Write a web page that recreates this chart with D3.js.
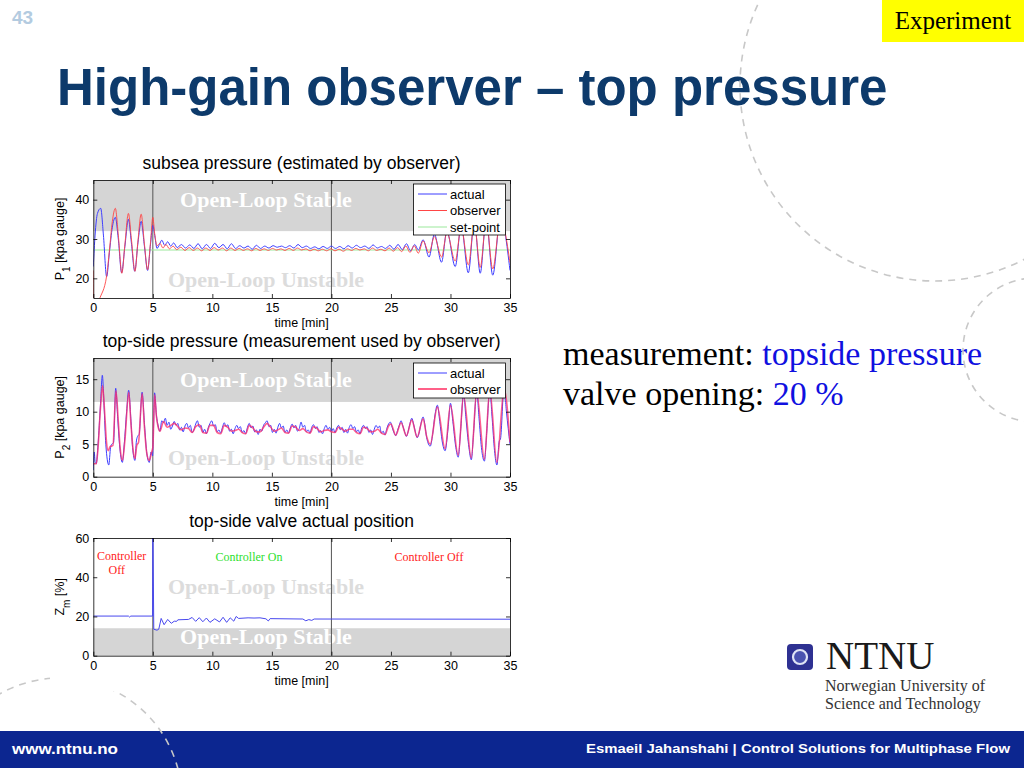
<!DOCTYPE html>
<html>
<head>
<meta charset="utf-8">
<script src="https://cdn.jsdelivr.net/npm/d3@7"></script>
<style>
  body { margin: 0; background: #fff; }
  svg { display: block; }
  .tick text { font-family: "Liberation Sans", Arial, sans-serif; font-size: 12.5px; fill: #000; }
  .tick line, .domain { stroke: #000; stroke-width: 0.8; }
</style>
</head>
<body>
<div id="slide"></div>
<script>
// ---- data ----
var timeTicks = [0, 5, 10, 15, 20, 25, 30, 35];
var p1Ticks = [20, 30, 40];
var p2Ticks = [0, 5, 10, 15];
var zmTicks = [0, 20, 40, 60];

// subsea pressure P1 [kpa gauge], [time min, value]
var p1Actual = [[0,23],[0.15,31],[0.35,36.5],[0.62,37.8],[0.85,31],[1.12,20.4],[1.35,26.5],[1.6,33],[1.85,35.5],[2.1,30],[2.38,21.4],[2.65,28],[2.95,35],[3.2,29],[3.48,21.8],[3.75,29],[4.02,34.5],[4.3,28],[4.56,22],[4.8,28.5],[5.0,33.5],[5.18,30.5],[5.35,27.6],
  [5.55,28.6],[5.75,29.7],[6.0,28.4],[6.25,29.3],[6.5,28.2],[6.75,29.0],[7.05,27.8],[7.4,28.6],[7.75,27.7],[8.1,28.5],[8.45,27.6],[8.8,28.8],[9.15,27.5],[9.5,28.6],[9.85,27.6],[10.2,28.9],[10.55,27.8],[10.9,28.6],[11.25,27.5],[11.6,28.8],[11.95,27.6],[12.3,28.3],[12.65,27.7],[13.0,28.2],[13.35,27.4],[13.7,28.4],[14.05,27.6],[14.4,28.2],[14.75,27.7],[15.1,28.3],[15.45,27.9],[15.8,28.2],[16.15,27.8],[16.5,28.3],[16.85,27.7],[17.2,28.6],[17.55,27.8],[17.9,28.2],[18.25,27.6],[18.6,28.0],[18.95,27.5],[19.3,28.1],[19.65,27.6],[20.0,28.2],[20.35,27.6],[20.7,28.1],[21.05,27.5],[21.4,28.3],[21.75,27.7],[22.1,28.4],[22.45,27.8],[22.8,28.2],[23.15,27.6],[23.5,28.5],[23.85,27.7],[24.2,28.1],[24.55,27.6],[24.9,28.4],[25.25,27.4],[25.6,28.6],[25.95,27.3],[26.3,28.8],[26.65,27.0],[27.0,28.6],[27.3,27.2],
  [27.7,29.8],[28.2,25.4],[28.65,31.2],[29.25,24.1],[29.7,32],[30.4,23],[30.9,33.3],[31.5,21.4],[32.0,34.5],[32.5,21.3],[33.0,35],[33.55,20.8],[34.2,35.5],[35,22]];
var p1Observer = [[0,22],[0.04,10],[0.5,14.5],[1.12,20.6],[1.35,27],[1.6,34.5],[1.85,37.8],[2.1,31],[2.4,21.3],[2.65,28.5],[2.95,36.5],[3.2,30],[3.5,21.8],[3.75,29.5],[4.02,36.3],[4.3,28.5],[4.56,22.2],[4.8,29],[5.0,35.5],[5.15,31.5],[5.35,28.3],
  [5.6,28.9],[5.85,27.7],[6.1,28.6],[6.4,27.5],[6.7,28.2],[7.0,27.3],[7.35,27.9],[7.7,27.1],[8.05,27.8],[8.4,27.1],[8.75,27.7],[9.1,27.0],[9.45,27.7],[9.8,27.1],[10.15,27.8],[10.5,27.2],[10.85,27.7],[11.2,27.0],[11.55,27.7],[11.9,27.1],[12.25,27.6],[12.6,27.1],[12.95,27.5],[13.3,27.0],[13.65,27.6],[14.0,27.1],[14.35,27.5],[14.7,27.1],[15.05,27.6],[15.4,27.2],[15.75,27.5],[16.1,27.1],[16.45,27.6],[16.8,27.1],[17.15,27.7],[17.5,27.2],[17.85,27.5],[18.2,27.0],[18.55,27.4],[18.9,27.0],[19.25,27.4],[19.6,27.0],[19.95,27.5],[20.3,27.0],[20.65,27.4],[21.0,26.9],[21.35,27.5],[21.7,27.1],[22.05,27.6],[22.4,27.2],[22.75,27.5],[23.1,27.0],[23.45,27.7],[23.8,27.1],[24.15,27.4],[24.5,27.0],[24.85,27.7],[25.2,26.9],[25.55,27.8],[25.9,26.8],[26.25,28.2],[26.6,26.6],[26.95,28.3],[27.3,26.4],
  [27.7,29.5],[28.2,26.5],[28.65,30.6],[29.25,25.4],[29.7,31.6],[30.4,24.4],[30.9,33],[31.5,23.4],[32.0,34],[32.5,22.8],[33.0,34.6],[33.55,22.4],[34.2,35],[35,24]];
var p1SetPoint = [[0,27.2],[35,27.2]];

// top-side pressure P2 [kpa gauge]
var p2Actual = [[0,1.0],[0.08,3.8],[0.15,2.3],[0.25,2.0],[0.4,5],[0.6,11],[0.76,15.6],[0.9,11],[1.05,5],[1.3,1.8],[1.45,4.5],[1.55,5],[1.7,5.2],[1.88,13.6],[2.05,9],[2.2,5],[2.44,2.2],[2.6,5],[2.8,10],[2.97,13.3],[3.15,9],[3.3,4.5],[3.5,2.5],[3.62,5.5],[3.75,6.3],[3.85,6.5],[4.1,13.0],[4.3,8],[4.5,3.5],[4.7,2.2],[4.85,3.8],[4.98,3.2],[5.05,7],[5.15,12.9],[5.3,9.5],[5.45,7.8],[5.6,7.0],
  [5.75,8.6],[5.9,8.3],[6.05,9.0],[6.2,7.9],[6.35,8.4],[6.5,7.3],[6.65,7.8],[6.8,8.5],[6.95,7.9],[7.1,8.2],[7.25,7.2],[7.4,7.6],[7.55,6.9],[7.7,7.8],[7.85,8.2],[8.0,7.5],[8.15,7.9],[8.3,6.8],[8.45,7.2],[8.6,8.1],[8.75,8.6],[8.9,7.6],[9.05,7.9],[9.2,6.8],[9.35,7.3],[9.5,6.6],[9.65,7.5],[9.8,8.2],[9.95,8.6],[10.1,7.8],[10.25,8.0],[10.4,6.9],[10.55,7.2],[10.7,6.7],[10.85,7.6],[11.0,8.3],[11.15,7.7],[11.3,8.0],[11.45,7.0],[11.6,7.3],[11.75,6.6],[11.9,7.4],[12.05,7.9],[12.2,7.4],[12.35,7.7],[12.5,6.8],[12.65,7.1],[12.8,6.6],[12.95,7.6],[13.1,8.2],[13.25,7.5],[13.4,7.8],[13.55,6.9],[13.7,7.2],[13.85,6.5],[14.0,7.3],[14.15,7.0],[14.3,7.9],[14.45,8.3],[14.6,8.6],[14.75,7.7],[14.9,7.9],[15.05,6.8],[15.2,7.3],[15.35,6.7],[15.5,7.6],[15.65,8.2],[15.8,7.5],[15.95,7.8],[16.1,6.8],[16.25,7.2],[16.4,6.7],[16.55,7.5],[16.7,8.1],[16.85,7.5],[17.0,7.9],[17.15,7.0],[17.3,7.4],[17.45,8.4],[17.6,7.6],[17.75,7.9],[17.9,6.9],[18.05,7.2],[18.2,6.7],[18.35,7.6],[18.5,8.0],[18.65,7.4],[18.8,7.7],[18.95,6.8],[19.1,7.1],[19.25,6.6],[19.4,7.4],[19.55,7.9],[19.7,7.3],[19.85,7.6],[20.0,6.9],[20.15,7.4],[20.3,6.8],[20.45,7.5],[20.6,7.9],[20.75,7.2],[20.9,7.6],[21.05,6.8],[21.2,7.3],[21.35,6.7],[21.5,7.6],[21.65,8.0],[21.8,7.4],[21.95,7.7],[22.1,6.9],[22.25,7.2],[22.4,6.6],[22.55,7.5],[22.7,7.9],[22.85,7.4],[23.0,7.7],[23.15,6.8],[23.3,7.2],[23.45,6.5],[23.6,7.3],[23.75,7.9],[23.9,7.5],[24.05,7.8],[24.2,6.7],[24.35,7.0],[24.5,6.4],[24.65,7.4],[24.8,8.1],[24.95,8.4],[25.1,7.6],[25.25,6.8],[25.4,6.3],[25.55,7.1],[25.7,7.9],[25.85,8.6],[26.0,7.8],[26.15,6.9],[26.3,6.2],[26.45,7.0],[26.6,8.2],[26.75,9.0],[26.9,8.1],[27.05,6.9],[27.2,6.0],[27.35,6.6],[27.5,8.0],[27.7,9.2],[27.85,8.0],[28.0,6.0],
  [28.3,4.7],[28.5,6.5],[28.7,9.5],[28.9,11.0],[29.1,8.5],[29.3,5.5],[29.55,4.0],[29.8,7.5],[30.0,11.3],[30.2,8.5],[30.45,4.5],[30.65,3.0],[30.85,7.0],[31.1,12.8],[31.3,9.0],[31.55,4.5],[31.75,2.6],[31.95,7.0],[32.2,13.2],[32.4,9.0],[32.6,4.5],[32.85,2.4],[33.05,7.0],[33.3,13.5],[33.5,9.0],[33.7,4.0],[33.9,1.8],[34.1,5.5],[34.2,5.8],[34.5,13.8],[34.7,10],[35,5.0]];
var p2Observer = [[0,2.0],[0.25,2.0],[0.4,4.5],[0.6,10.5],[0.78,14.0],[0.95,10],[1.1,5.5],[1.25,4.0],[1.4,4.6],[1.65,4.8],[1.9,13.2],[2.1,8.5],[2.25,4.5],[2.45,2.5],[2.65,5.5],[2.98,13.0],[3.15,8.5],[3.35,4],[3.5,2.8],[3.65,4.8],[3.8,5.3],[4.1,12.8],[4.3,7.5],[4.5,3.5],[4.7,2.5],[4.9,3.8],[5.0,4.5],[5.15,12.6],[5.3,9.3],[5.45,7.6],[5.6,7.0],
  [5.9,8.5],[6.2,7.6],[6.5,7.9],[6.8,8.2],[7.1,7.7],[7.4,7.2],[7.7,7.5],[8.0,7.4],[8.3,6.8],[8.6,7.7],[8.9,8.0],[9.2,6.8],[9.5,6.7],[9.8,7.9],[10.1,7.9],[10.4,6.8],[10.7,6.6],[11.0,7.9],[11.3,7.6],[11.6,7.0],[11.9,7.1],[12.2,7.3],[12.5,6.8],[12.8,6.6],[13.1,7.9],[13.4,7.5],[13.7,6.9],[14.0,6.9],[14.3,7.6],[14.6,8.2],[14.9,7.6],[15.2,7.0],[15.5,7.2],[15.8,7.5],[16.1,6.8],[16.4,6.7],[16.7,7.8],[17.0,7.6],[17.3,7.1],[17.6,7.4],[17.9,6.9],[18.2,6.7],[18.5,7.7],[18.8,7.4],[19.1,6.9],[19.4,7.1],[19.7,7.2],[20.0,6.9],[20.3,6.8],[20.6,7.6],[20.9,7.3],[21.2,7.0],[21.5,7.3],[21.8,7.3],[22.1,6.8],[22.4,6.6],[22.7,7.6],[23.0,7.4],[23.3,6.9],[23.6,7.0],[23.9,7.3],[24.2,6.7],[24.5,6.5],[24.8,7.8],[25.0,8.1],[25.4,6.4],[25.85,8.3],[26.3,6.3],[26.75,8.7],[27.2,6.1],[27.7,8.9],[28.0,6.2],
  [28.3,5.0],[28.9,10.7],[29.55,4.3],[30.0,11.0],[30.65,3.3],[31.1,12.5],[31.75,2.9],[32.2,13.0],[32.85,2.7],[33.3,13.3],[33.9,2.2],[34.5,13.5],[35,5.3]];

// top-side valve position Zm [%]
var zmActual = [[0,20.2],[2.95,20.2],[3.05,19.7],[3.15,20.2],[4.98,20.2],[5.0,70],[5.08,13.5],[5.35,13.0],[5.5,13.5],[5.7,19.0],[5.95,15.8],[6.25,18.5],[6.55,16.5],[6.8,17.6],[7.0,17.5],[7.1,18.3],[8.0,18.5],[8.3,19.5],[8.6,17.5],[8.9,19.4],[9.2,17.3],[9.5,19.2],[9.8,17.0],[10.2,18.8],[10.6,17.2],[10.9,19.6],[11.2,17.0],[11.5,19.3],[11.8,17.6],[12.0,20.0],[12.2,19.0],[13.0,19.3],[13.5,19.2],[14.0,19.3],[14.5,18.8],[14.7,17.7],[14.85,18.9],[17.6,18.7],[17.85,17.8],[18.1,18.4],[18.35,18.0],[18.55,18.7],[35,18.6]];

var sansFont = '"Liberation Sans", Arial, Helvetica, sans-serif';
var serifFont = '"Liberation Serif", "Times New Roman", serif';

var svg = d3.select("#slide").append("svg")
  .attr("width", 1024)
  .attr("height", 768);

// bottom bar
svg.append("rect").attr("x", 0).attr("y", 731).attr("width", 1024).attr("height", 37).attr("fill", "#0c2690");
svg.append("text").attr("x", 12).attr("y", 754).attr("fill", "#fff")
  .attr("font-family", sansFont).attr("font-weight", "bold").attr("font-size", 15)
  .attr("textLength", 106).attr("lengthAdjust", "spacingAndGlyphs").text("www.ntnu.no");
svg.append("text").attr("x", 586).attr("y", 753).attr("fill", "#fff")
  .attr("font-family", sansFont).attr("font-weight", "bold").attr("font-size", 13.5)
  .attr("textLength", 424).attr("lengthAdjust", "spacingAndGlyphs")
  .text("Esmaeil Jahanshahi  |  Control Solutions for Multiphase Flow");

// page number, title, experiment tag
svg.append("text").attr("x", 12).attr("y", 24).attr("fill", "#b3cbe0")
  .attr("font-family", sansFont).attr("font-weight", "bold").attr("font-size", 19).text("43");
svg.append("text").attr("x", 57).attr("y", 105).attr("fill", "#0d3a6b")
  .attr("font-family", sansFont).attr("font-weight", "bold").attr("font-size", 51)
  .text("High-gain observer \u2013 top pressure");
svg.append("rect").attr("x", 882).attr("y", 0).attr("width", 142).attr("height", 42).attr("fill", "#ffff00");
svg.append("text").attr("x", 953).attr("y", 29).attr("text-anchor", "middle")
  .attr("font-family", serifFont).attr("font-size", 25).text("Experiment");

// side notes
var note1 = svg.append("text").attr("x", 563).attr("y", 365)
  .attr("font-family", serifFont).attr("font-size", 34);
note1.append("tspan").attr("fill", "#000").text("measurement: ");
note1.append("tspan").attr("fill", "#1010e0").text("topside pressure");
var note2 = svg.append("text").attr("x", 563).attr("y", 405)
  .attr("font-family", serifFont).attr("font-size", 34);
note2.append("tspan").attr("fill", "#000").text("valve opening: ");
note2.append("tspan").attr("fill", "#1010e0").text("20 %");

// dashed decoration circles
[[935, 86, 195], [1035, 350, 72], [60, 800, 122]].forEach(function(c) {
  svg.append("circle").attr("cx", c[0]).attr("cy", c[1]).attr("r", c[2])
    .attr("fill", "none").attr("stroke", "#c8c8c8").attr("stroke-width", 1.6)
    .attr("stroke-dasharray", "7,6");
});

// NTNU logo
svg.append("rect").attr("x", 787).attr("y", 644).attr("width", 26).attr("height", 26).attr("rx", 4).attr("fill", "#2e3192");
svg.append("circle").attr("cx", 800).attr("cy", 657).attr("r", 7).attr("fill", "#4a52b0").attr("stroke", "#dfe3f5").attr("stroke-width", 2.2);
svg.append("text").attr("x", 826).attr("y", 669).attr("fill", "#1a1a1a")
  .attr("font-family", serifFont).attr("font-size", 39).text("NTNU");
svg.append("text").attr("x", 825).attr("y", 691).attr("fill", "#333")
  .attr("font-family", serifFont).attr("font-size", 16).text("Norwegian University of");
svg.append("text").attr("x", 825).attr("y", 709).attr("fill", "#333")
  .attr("font-family", serifFont).attr("font-size", 16).text("Science and Technology");

// the figure (white background like the pasted image)
svg.append("rect").attr("x", 50).attr("y", 148).attr("width", 475).attr("height", 543).attr("fill", "#fff");

var x = d3.scaleLinear().domain([0, 35]).range([93.3, 510]);

function drawChart(cfg) {
  var g = svg.append("g");
  var y = d3.scaleLinear().domain(cfg.yDomain).range([cfg.bottom, cfg.top]);
  var clipId = "clip" + cfg.id;

  g.append("clipPath").attr("id", clipId).append("rect")
    .attr("x", x(0)).attr("y", cfg.top).attr("width", x(35) - x(0)).attr("height", cfg.bottom - cfg.top);

  // gray region
  g.append("rect")
    .attr("x", x(0)).attr("width", x(35) - x(0))
    .attr("y", y(cfg.band[1])).attr("height", y(cfg.band[0]) - y(cfg.band[1]))
    .attr("fill", "#d5d5d5");

  // region labels
  g.append("text").attr("x", 266).attr("y", cfg.stableY).attr("text-anchor", "middle")
    .attr("font-family", serifFont).attr("font-weight", "bold").attr("font-size", 22)
    .attr("fill", "#fff").text("Open-Loop Stable");
  g.append("text").attr("x", 266).attr("y", cfg.unstableY).attr("text-anchor", "middle")
    .attr("font-family", serifFont).attr("font-weight", "bold").attr("font-size", 22)
    .attr("fill", "#dcdcdc").text("Open-Loop Unstable");

  if (cfg.extra) cfg.extra(g, y);

  // controller on/off markers
  [5, 20].forEach(function(t) {
    g.append("line").attr("x1", x(t)).attr("x2", x(t)).attr("y1", cfg.top).attr("y2", cfg.bottom)
      .attr("stroke", "#555").attr("stroke-width", 1);
  });

  var line = d3.line().x(d => x(d[0])).y(d => y(d[1])).curve(cfg.curve || d3.curveMonotoneX);
  var plot = g.append("g").attr("clip-path", "url(#" + clipId + ")");
  cfg.series.forEach(function(s) {
    plot.append("path").datum(s.data)
      .attr("fill", "none").attr("stroke", s.color).attr("stroke-width", s.width || 1)
      .attr("stroke-opacity", s.opacity || 1)
      .attr("d", line);
  });

  // axes with inward ticks, box on
  g.append("g").attr("transform", `translate(0, ${cfg.bottom})`)
    .call(d3.axisBottom(x).tickValues(timeTicks).tickSizeInner(-4).tickSizeOuter(0).tickPadding(5));
  g.append("g").attr("transform", `translate(0, ${cfg.top})`)
    .call(d3.axisTop(x).tickValues(timeTicks).tickSizeInner(-4).tickSizeOuter(0).tickFormat(""));
  g.append("g").attr("transform", `translate(${x(0)}, 0)`)
    .call(d3.axisLeft(y).tickValues(cfg.yTicks).tickSizeInner(-4).tickSizeOuter(0).tickPadding(4));
  g.append("g").attr("transform", `translate(${x(35)}, 0)`)
    .call(d3.axisRight(y).tickValues(cfg.yTicks).tickSizeInner(-4).tickSizeOuter(0).tickFormat(""));

  // titles and labels
  g.append("text").attr("x", 301.6).attr("y", cfg.top - 11.5).attr("text-anchor", "middle")
    .attr("font-family", sansFont).attr("font-size", 17.5).text(cfg.title);
  g.append("text").attr("x", 301.6).attr("y", cfg.bottom + 29).attr("text-anchor", "middle")
    .attr("font-family", sansFont).attr("font-size", 12.5).text("time [min]");
  var yl = g.append("text")
    .attr("transform", `translate(64, ${(cfg.top + cfg.bottom) / 2}) rotate(-90)`)
    .attr("text-anchor", "middle").attr("font-family", sansFont).attr("font-size", 12.5);
  yl.append("tspan").text(cfg.yLabel[0]);
  yl.append("tspan").attr("baseline-shift", "sub").attr("font-size", 10).text(cfg.yLabel[1]);
  yl.append("tspan").text(cfg.yLabel[2]);

  // legend
  if (cfg.legend) {
    var L = cfg.legend;
    g.append("rect").attr("x", 413.5).attr("y", L.top).attr("width", 92).attr("height", L.height)
      .attr("fill", "#fff").attr("stroke", "#000").attr("stroke-width", 0.8);
    L.items.forEach(function(it, i) {
      var cy = L.top + 10 + i * L.step;
      g.append("line").attr("x1", 418).attr("x2", 447).attr("y1", cy).attr("y2", cy)
        .attr("stroke", it.color).attr("stroke-width", it.width || 1);
      g.append("text").attr("x", 450).attr("y", cy + 4.5)
        .attr("font-family", sansFont).attr("font-size", 13).text(it.name);
    });
  }
}

var blue = "#3d3dff", red = "#ff4545", green = "#9be89b";

drawChart({
  id: 1, top: 180, bottom: 298, yDomain: [15, 45], yTicks: p1Ticks, band: [32, 45],
  stableY: 207, unstableY: 286.5,
  title: "subsea pressure (estimated by observer)", yLabel: ["P", "1", " [kpa gauge]"],
  series: [
    { data: p1SetPoint, color: green },
    { data: p1Actual, color: blue },
    { data: p1Observer, color: red, opacity: 0.9 }
  ],
  legend: { top: 184, height: 51, step: 16.5, items: [
    { name: "actual", color: blue }, { name: "observer", color: red }, { name: "set-point", color: green }
  ] }
});

drawChart({
  id: 2, top: 358, bottom: 476.7, yDomain: [0, 18.26], yTicks: p2Ticks, band: [11.5, 18.26],
  stableY: 386.5, unstableY: 465,
  title: "top-side pressure (measurement used by observer)", yLabel: ["P", "2", " [kpa gauge]"],
  series: [
    { data: p2Actual, color: blue },
    { data: p2Observer, color: "#ff2d6a", width: 1.6, opacity: 0.75 }
  ],
  legend: { top: 363, height: 35, step: 16, items: [
    { name: "actual", color: blue }, { name: "observer", color: "#ff6088", width: 2 }
  ] }
});

drawChart({
  id: 3, top: 538, bottom: 655.7, yDomain: [0, 60], yTicks: zmTicks, band: [0, 14],
  stableY: 643.5, unstableY: 593.5,
  title: "top-side valve actual position", yLabel: ["Z", "m", " [%]"],
  curve: d3.curveLinear,
  series: [ { data: zmActual, color: "#4848ee" } ],
  extra: function(g, y) {
    var t = function(str, cx, cy, col) {
      g.append("text").attr("x", cx).attr("y", cy).attr("text-anchor", "middle")
        .attr("font-family", serifFont).attr("font-size", 12).attr("fill", col).text(str);
    };
    t("Controller", 121.7, 559.5, "#ff1a1a");
    t("Off", 116.7, 574, "#ff1a1a");
    t("Controller On", 249, 561, "#2ee02e");
    t("Controller Off", 429, 561, "#ff1a1a");
  }
});
</script>
</body>
</html>
